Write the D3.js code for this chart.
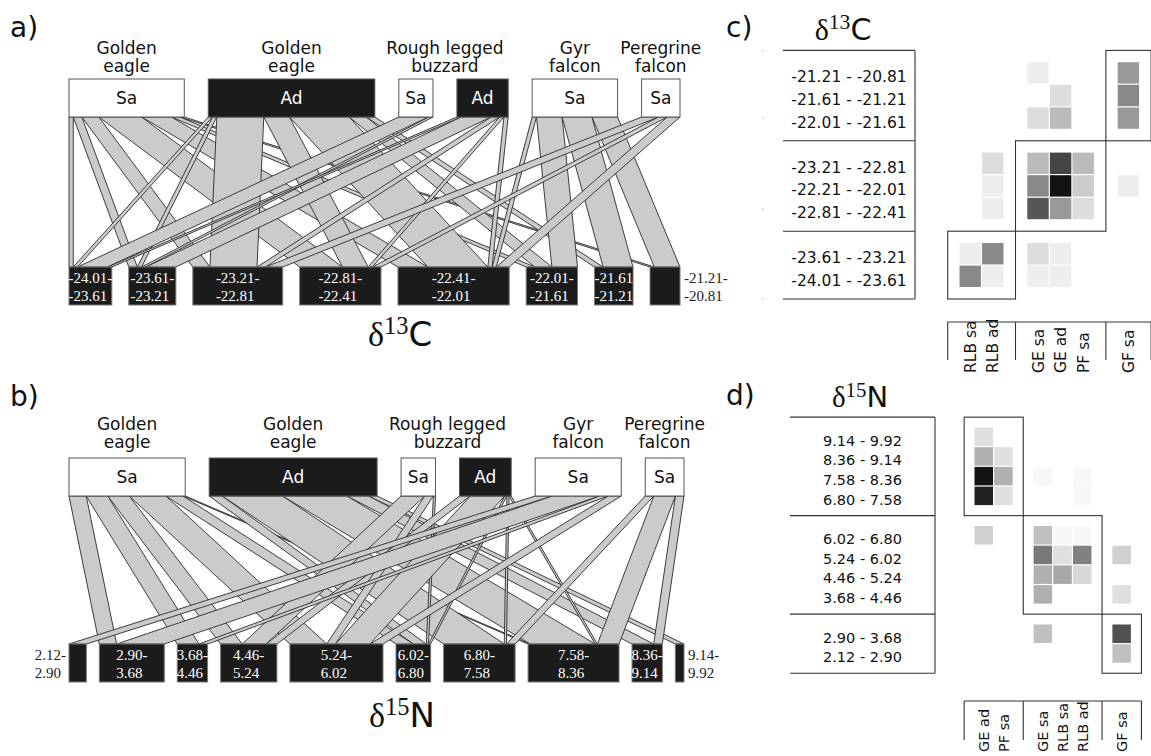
<!DOCTYPE html>
<html>
<head>
<meta charset="utf-8">
<script src="https://cdn.jsdelivr.net/npm/d3@7"></script>
<style>
  body { margin: 0; background: #fff; }
  svg { font-family: "DejaVu Sans", sans-serif; }
</style>
</head>
<body>
<div id="chart"></div>
<script>
// ---- data ----
// raptor groups (upper level of the webs), in web order
const species = ["GE sa", "GE ad", "RLB sa", "RLB ad", "GF sa", "PF sa"];
const ageLabel = ["Sa", "Ad", "Sa", "Ad", "Sa", "Sa"];
const speciesHeader = [["Golden", "eagle"], ["Golden", "eagle"], ["Rough legged", "buzzard"], ["Gyr", "falcon"], ["Peregrine", "falcon"]];
const headerSpan = [[0, 0], [1, 1], [2, 3], [4, 4], [5, 5]];

// delta13C bins (lower level of web a)
const binsC = [["-24.01-", "-23.61"], ["-23.61-", "-23.21"], ["-23.21-", "-22.81"], ["-22.81-", "-22.41"],
               ["-22.41-", "-22.01"], ["-22.01-", "-21.61"], ["-21.61", "-21.21"], ["-21.21-", "-20.81"]];
// counts: rows = species, cols = binsC
const webC = [
  [1, 2, 4, 10, 7, 2, 0, 1],
  [1, 1, 11, 6, 14, 4, 2, 0],
  [7, 1, 0, 0, 0, 0, 0, 0],
  [1, 7, 2, 1, 1, 0, 0, 0],
  [0, 0, 0, 0, 1, 6, 7, 6],
  [0, 0, 4, 2, 3, 0, 0, 0]
];
// module matrix c)
const rowGroupsC = [[7, 6, 5], [2, 4, 3], [1, 0]];
const rowLabelsC = ["-21.21 - -20.81", "-21.61 - -21.21", "-22.01 - -21.61",
                    "-23.21 - -22.81", "-22.21 - -22.01", "-22.81 - -22.41",
                    "-23.61 - -23.21", "-24.01 - -23.61"];
const colGroupsC = [[2, 3], [0, 1, 5], [4]];
const modulesC = [[0, 2], [1, 1], [2, 0]];   // [colGroup, rowGroup]

// delta15N bins (lower level of web b)
const binsN = [["2.12-", "2.90"], ["2.90-", "3.68"], ["3.68-", "4.46"], ["4.46-", "5.24"], ["5.24-", "6.02"],
               ["6.02-", "6.80"], ["6.80-", "7.58"], ["7.58-", "8.36"], ["8.36-", "9.14"], ["9.14-", "9.92"]];
const webN = [
  [0, 4, 5, 5, 8.5, 4, 0, 0.5, 0, 0],
  [0, 0, 0, 0, 0, 3, 14, 15, 5, 2],
  [0, 0, 0, 5.5, 2, 0.5, 0, 0, 0, 0],
  [0, 0, 0, 2.5, 8, 0.5, 0.5, 0.5, 0, 0],
  [4, 11, 2, 0, 3, 0, 0, 0, 0, 0],
  [0, 0, 0, 0, 0, 0, 2, 5, 2, 0]
];
const rowGroupsN = [[9, 8, 7, 6], [5, 4, 3, 2], [1, 0]];
const rowLabelsN = ["9.14 - 9.92", "8.36 - 9.14", "7.58 - 8.36", "6.80 - 7.58",
                    "6.02 - 6.80", "5.24 - 6.02", "4.46 - 5.24", "3.68 - 4.46",
                    "2.90 - 3.68", "2.12 - 2.90"];
const colGroupsN = [[1, 5], [0, 2, 3], [4]];
const modulesN = [[0, 0], [1, 1], [2, 2]];

// ---- drawing ----
const svg = d3.select("#chart").append("svg")
  .attr("width", 1151).attr("height", 756);

const serif = "'Liberation Serif', 'Times New Roman', serif";
const linkFill = "#cbcbcb", linkStroke = "#2a2a2a", boxDark = "#1b1b1b";

function drawWeb(g, matrix, bins, geo) {
  const nS = matrix.length, nB = matrix[0].length;
  const sTot = matrix.map(r => d3.sum(r));
  const bTot = d3.range(nB).map(j => d3.sum(matrix, r => r[j]));
  const total = d3.sum(sTot);
  const kTop = d3.scaleLinear().domain([0, total]).range([0, geo.x1 - geo.x0 - geo.gapTop * (nS - 1)]);
  const kBot = d3.scaleLinear().domain([0, total]).range([0, geo.x1 - geo.x0 - geo.gapBot * (nB - 1)]);

  const topX = [], botX = [];
  let x = geo.x0;
  sTot.forEach(v => { topX.push(x); x += kTop(v) + geo.gapTop; });
  x = geo.x0;
  bTot.forEach(v => { botX.push(x); x += kBot(v) + geo.gapBot; });

  // link end positions
  const topOff = sTot.map(() => 0), botOff = bTot.map(() => 0);
  const links = [];
  for (let i = 0; i < nS; i++) {
    for (let j = 0; j < nB; j++) {
      const v = matrix[i][j];
      if (!v) continue;
      links.push({ i, j, t0: topX[i] + topOff[i], t1: topX[i] + topOff[i] + kTop(v) });
      topOff[i] += kTop(v);
    }
  }
  for (let j = 0; j < nB; j++) {
    links.filter(l => l.j === j).sort((a, b) => a.i - b.i).forEach(l => {
      const v = matrix[l.i][j];
      l.b0 = botX[j] + botOff[j];
      l.b1 = l.b0 + kBot(v);
      botOff[j] += kBot(v);
    });
  }
  const line = d3.line();
  g.append("g").selectAll("path").data(links).enter().append("path")
    .attr("d", l => line([[l.t0, geo.yTop + geo.h], [l.t1, geo.yTop + geo.h], [l.b1, geo.yBot], [l.b0, geo.yBot]]) + "Z")
    .attr("fill", linkFill).attr("stroke", linkStroke).attr("stroke-width", 0.9)
    .attr("stroke-linejoin", "round");

  // upper boxes
  const top = g.append("g");
  top.selectAll("rect").data(sTot).enter().append("rect")
    .attr("x", (v, i) => topX[i]).attr("y", geo.yTop)
    .attr("width", v => kTop(v)).attr("height", geo.h)
    .attr("fill", (v, i) => ageLabel[i] === "Ad" ? boxDark : "#fff")
    .attr("stroke", "#555").attr("stroke-width", 1);
  top.selectAll("text").data(sTot).enter().append("text")
    .attr("x", (v, i) => topX[i] + kTop(v) / 2).attr("y", geo.yTop + geo.h / 2 + 6)
    .attr("text-anchor", "middle").attr("font-size", 17)
    .attr("fill", (v, i) => ageLabel[i] === "Ad" ? "#fff" : "#111")
    .text((v, i) => ageLabel[i]);

  // species headers
  speciesHeader.forEach((lines, h) => {
    const [a, b] = headerSpan[h];
    const cx = a === b ? topX[a] + kTop(sTot[a]) / 2 : (topX[a] + kTop(sTot[a]) + topX[b]) / 2;
    lines.forEach((s, k) => g.append("text").attr("text-anchor", "middle").attr("font-size", 17)
      .attr("fill", "#111").attr("x", cx).attr("y", geo.headY + k * 18).text(s));
  });

  // lower boxes
  const bot = g.append("g");
  bot.selectAll("rect").data(bTot).enter().append("rect")
    .attr("x", (v, j) => botX[j]).attr("y", geo.yBot)
    .attr("width", v => kBot(v)).attr("height", geo.h)
    .attr("fill", boxDark).attr("stroke", "#777").attr("stroke-width", 1);
  bTot.forEach((v, j) => {
    const w = kBot(v);
    const l1 = bot.append("text").style("font-family", serif).attr("font-size", 15)
      .attr("y", geo.yBot + 16).text(bins[j][0]);
    const l2 = bot.append("text").style("font-family", serif).attr("font-size", 15)
      .attr("y", geo.yBot + 34).text(bins[j][1]);
    const tw = l1.node().getComputedTextLength();
    const inside = tw <= w + 1.5;
    let sx;
    if (inside) sx = botX[j] + w / 2 - tw / 2;
    else if (j === 0) sx = botX[j] - 3 - tw;
    else sx = botX[j] + w + 4;
    [l1, l2].forEach(t => t.attr("x", sx).attr("fill", inside ? "#fff" : "#222"));
  });
}

function deltaTitle(g, x, y, sup, el, size) {
  const t = g.append("text").attr("x", x).attr("y", y).attr("text-anchor", "middle").attr("fill", "#111");
  t.append("tspan").style("font-family", serif).attr("font-size", size).text("\u03b4");
  t.append("tspan").style("font-family", serif).attr("font-size", size * 0.72)
    .attr("dy", -size * 0.36).text(sup);
  t.append("tspan").attr("font-size", size).attr("dy", size * 0.36).text(el);
}

function drawMatrix(g, matrix, geo, rowGroups, rowLabels, colGroups, modules) {
  const step = geo.step;
  const rowSlot = {}, colSlot = {};
  let s = 0;
  rowGroups.forEach(grp => { grp.forEach(b => { rowSlot[b] = s++; }); s++; });
  s = 0;
  colGroups.forEach(grp => { grp.forEach(c => { colSlot[c] = s++; }); s++; });
  const x = d3.scaleLinear().domain([0, 1]).range([geo.x0, geo.x0 + step]);
  const y = d3.scaleLinear().domain([0, 1]).range([geo.y0, geo.y0 + step]);
  const maxV = d3.max(matrix.flat());
  const shade = d3.scaleLinear().domain([0, maxV]).range(["#ffffff", "#121212"]);

  const cells = [];
  Object.keys(colSlot).forEach(c => Object.keys(rowSlot).forEach(b => {
    const v = matrix[c][b];
    if (v > 0) cells.push({ c: +c, b: +b, v });
  }));
  g.append("g").selectAll("rect").data(cells).enter().append("rect")
    .attr("x", d => x(colSlot[d.c]) + 0.5).attr("y", d => y(rowSlot[d.b]) + 0.5)
    .attr("width", step - 1.2).attr("height", step - 1.2)
    .attr("fill", d => shade(d.v));

  const gx0 = grp => x(colSlot[grp[0]]) - step / 2;
  const gx1 = grp => x(colSlot[grp[grp.length - 1]]) + step * 1.5;
  const gy0 = grp => y(rowSlot[grp[0]]) - step / 2;
  const gy1 = grp => y(rowSlot[grp[grp.length - 1]]) + step * 1.5;

  g.append("g").selectAll("rect").data(modules).enter().append("rect")
    .attr("x", m => gx0(colGroups[m[0]])).attr("y", m => gy0(rowGroups[m[1]]))
    .attr("width", m => gx1(colGroups[m[0]]) - gx0(colGroups[m[0]]))
    .attr("height", m => gy1(rowGroups[m[1]]) - gy0(rowGroups[m[1]]))
    .attr("fill", "none").attr("stroke", "#333").attr("stroke-width", 1.1);

  // row label table
  const lines = g.append("g").attr("stroke", "#333").attr("stroke-width", 1.1);
  const yb = [gy0(rowGroups[0])].concat(rowGroups.map(gy1));
  yb.forEach(v => lines.append("line").attr("x1", geo.tx0).attr("x2", geo.tx1).attr("y1", v).attr("y2", v));
  lines.append("line").attr("x1", geo.tx1).attr("x2", geo.tx1).attr("y1", yb[0]).attr("y2", yb[yb.length - 1]);
  const flatRows = rowGroups.flat();
  g.append("g").selectAll("text").data(flatRows).enter().append("text")
    .attr("x", (geo.tx0 + geo.tx1) / 2)
    .attr("y", b => y(rowSlot[b]) + step / 2 + geo.fs * 0.6)
    .attr("text-anchor", "middle").attr("font-size", geo.fs).attr("fill", "#111")
    .text((b, k) => rowLabels[k]);

  // column label table
  const xb = [gx0(colGroups[0])].concat(colGroups.map(gx1));
  lines.append("line").attr("x1", xb[0]).attr("x2", xb[xb.length - 1]).attr("y1", geo.cy0).attr("y2", geo.cy0);
  xb.forEach(v => lines.append("line").attr("x1", v).attr("x2", v).attr("y1", geo.cy0).attr("y2", geo.cy1));
  g.append("g").selectAll("text").data(colGroups.flat()).enter().append("text")
    .attr("transform", c => `translate(${x(colSlot[c]) + step / 2 + geo.fs * 0.36},${geo.cyText}) rotate(-90)`)
    .attr("font-size", geo.fs).attr("fill", "#111")
    .text(c => species[c]);
}

// panel a
const ga = svg.append("g");
drawWeb(ga, webC, binsC, { x0: 69, x1: 680, gapTop: 24, gapBot: 17, yTop: 79, yBot: 267, h: 38, headY: 54 });
deltaTitle(ga, 400, 346, "13", "C", 34);

// panel b
const gb = svg.append("g");
drawWeb(gb, webN, binsN, { x0: 69, x1: 684, gapTop: 24, gapBot: 13, yTop: 458, yBot: 644, h: 38, headY: 430 });
deltaTitle(gb, 402, 727, "15", "N", 34);

// panel c
const gc = svg.append("g");
drawMatrix(gc, webC, { x0: 959, y0: 61.7, step: 22.6, tx0: 783, tx1: 915, cy0: 322, cy1: 360, cyText: 373, fs: 15.5 },
  rowGroupsC, rowLabelsC, colGroupsC, modulesC);
deltaTitle(gc, 843, 40, "13", "C", 30);
[51, 118, 209, 299].forEach(v => gc.append("circle").attr("cx", 763).attr("cy", v).attr("r", 0.8).attr("fill", "#bbb"));

// panel d
const gd = svg.append("g");
drawMatrix(gd, webN, { x0: 974, y0: 427, step: 19.7, tx0: 790, tx1: 935, cy0: 701, cy1: 740, cyText: 752, fs: 14.5 },
  rowGroupsN, rowLabelsN, colGroupsN, modulesN);
deltaTitle(gd, 860, 407, "15", "N", 29);

// panel letters
[["a)", 10, 37], ["b)", 10, 406], ["c)", 726, 37], ["d)", 726, 405]].forEach(p =>
  svg.append("text").attr("x", p[1]).attr("y", p[2]).attr("font-size", 28).attr("fill", "#111").text(p[0]));
</script>
</body>
</html>
